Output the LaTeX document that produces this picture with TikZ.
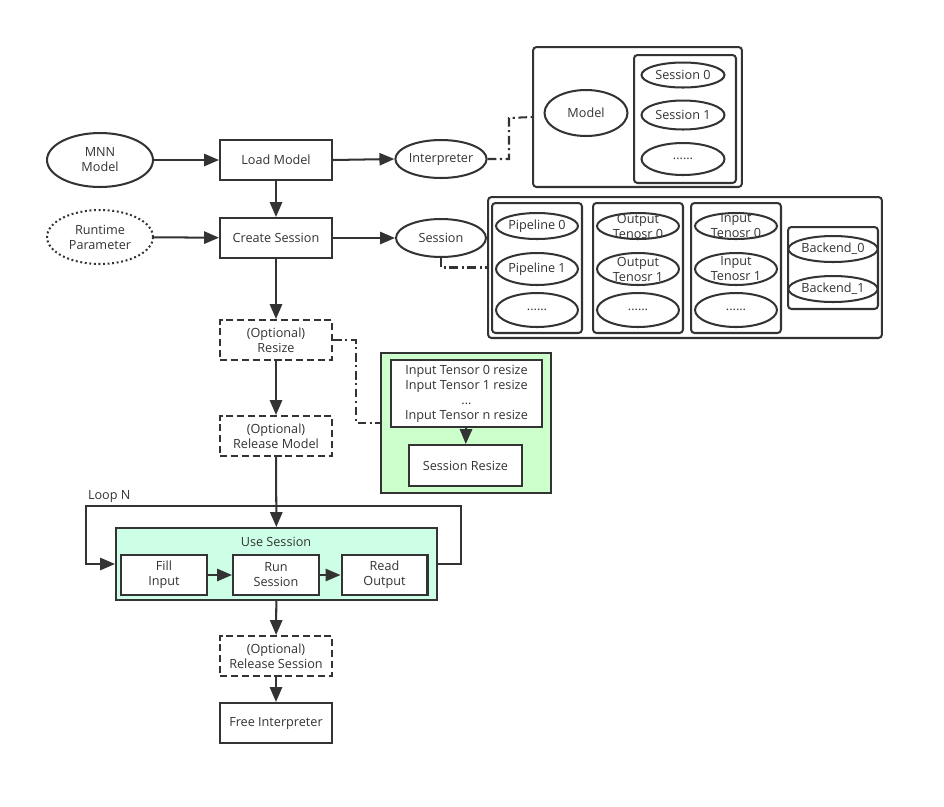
\documentclass[tikz,border=0pt]{standalone}
\usepackage{fontspec}
\setmainfont{Open Sans}
\usepackage{tikz}
\usetikzlibrary{shapes.geometric}
\usetikzlibrary{arrows.meta}
\definecolor{ln}{HTML}{333333}
\definecolor{resizegreen}{HTML}{CCFFCC}
\definecolor{usegreen}{HTML}{CCFFE6}
\tikzset{
  proc/.style={draw, rectangle, fill=white, minimum width=2.24cm, minimum height=0.8cm, inner sep=1pt, align=center},
  opt/.style={proc, dash pattern=on 4pt off 2.2pt},
  oval/.style={draw, ellipse, fill=white, inner sep=0pt, align=center},
  tag/.style={label={[align=center]center:#1}},
  grp/.style={draw, rectangle, rounded corners=2pt, inner sep=0pt},
  arr/.style={-{Triangle[length=8.5pt,width=7pt]}},
  link/.style={dash pattern=on 5pt off 2pt on 1.2pt off 2pt}
}

\begin{document}
\begin{tikzpicture}[x=0.02cm, y=-0.02cm, line width=1.15pt, draw=ln, text=ln,
	font=\fontsize{7.2}{8.5}\selectfont]
	\useasboundingbox (0,0) rectangle (944,806);
	% main flow
	\node[oval, minimum width=2.12cm, minimum height=1.08cm] (mnn) at (100,160) {MNN\\Model};
	\node[oval, dash pattern=on 1.1pt off 1.5pt, minimum width=2.12cm, minimum height=1.08cm] (rt) at (100,237) {Runtime\\Parameter};
	\node[proc] (load) at (276,160) {Load Model};
	\node[proc] (create) at (276,238) {Create Session};
	\node[opt] (resize) at (276,340) {(Optional)\\Resize};
	\node[opt] (relmodel) at (276,436) {(Optional)\\Release Model};
	\node[opt] (relsess) at (276,656) {(Optional)\\Release Session};
	\node[proc] (free) at (276,723) {Free Interpreter};
	\node[oval, minimum width=1.8cm, minimum height=0.76cm] (interp) at (441,159) {Interpreter};
	\node[oval, minimum width=1.8cm, minimum height=0.76cm] (sess) at (441,238) {Session};

	% interpreter content
	\node[grp, minimum width=4.18cm, minimum height=2.8cm] (box1) at (637.5,117) {};
	\node[oval, minimum width=1.66cm, minimum height=0.92cm] (model) at (586,113) {Model};
	\node[grp, minimum width=2.04cm, minimum height=2.56cm] (sesslist) at (685,119) {};
	\node[oval, minimum width=1.66cm, minimum height=0.5cm] (s0) at (683,75) {Session 0};
	\node[oval, minimum width=1.66cm, minimum height=0.58cm] (s1) at (683,115) {Session 1};
	\node[oval, minimum width=1.66cm, minimum height=0.64cm] (sn) at (683,159) {......};

	% session content
	\node[grp, minimum width=7.88cm, minimum height=2.82cm] (box2) at (685,267.5) {};
	\node[grp, minimum width=1.8cm, minimum height=2.6cm] (pipes) at (537,268) {};
	\node[grp, minimum width=1.8cm, minimum height=2.6cm] (outs) at (638,268) {};
	\node[grp, minimum width=1.8cm, minimum height=2.6cm] (ins) at (736,268) {};
	\node[grp, minimum width=1.8cm, minimum height=1.64cm] (backs) at (833,268) {};
	\node[oval, minimum width=1.64cm, minimum height=0.52cm] (p0) at (537,226) {Pipeline 0};
	\node[oval, minimum width=1.64cm, minimum height=0.64cm] (p1) at (537,269) {Pipeline 1};
	\node[oval, minimum width=1.64cm, minimum height=0.68cm] (pn) at (537,310) {......};
	\node[oval, minimum width=1.64cm, minimum height=0.52cm, tag={Output\\Tenosr 0}] (o0) at (638,226) {};
	\node[oval, minimum width=1.64cm, minimum height=0.64cm, tag={Output\\Tenosr 1}] (o1) at (638,269) {};
	\node[oval, minimum width=1.64cm, minimum height=0.68cm] (on) at (638,310) {......};
	\node[oval, minimum width=1.64cm, minimum height=0.52cm, tag={Input\\Tenosr 0}] (i0) at (736,226) {};
	\node[oval, minimum width=1.64cm, minimum height=0.64cm, tag={Input\\Tenosr 1}] (i1) at (736,269) {};
	\node[oval, minimum width=1.64cm, minimum height=0.68cm] (in) at (736,310) {......};
	\node[oval, minimum width=1.68cm, minimum height=0.52cm] (b0) at (833,249) {Backend\_0};
	\node[oval, minimum width=1.68cm, minimum height=0.52cm] (b1) at (833,289) {Backend\_1};

	% resize content
	\node[draw, fill=resizegreen, minimum width=3.4cm, minimum height=2.8cm] (green) at (466,423) {};
	\node[proc, minimum width=3.02cm, minimum height=1.34cm] (tensors) at (466.5,393.5) {Input Tensor 0 resize\\Input Tensor 1 resize\\...\\Input Tensor n resize};
	\node[proc, minimum width=2.26cm, minimum height=0.82cm] (sresize) at (465.5,465.5) {Session Resize};

	% use session
	\node[draw, fill=usegreen, minimum width=6.42cm, minimum height=1.44cm] (use) at (276.5,564) {};
	\node (uselabel) at (276,542) {Use Session};
	\node[proc, minimum width=1.72cm] (fill) at (164,575) {Fill\\Input};
	\node[proc, minimum width=1.72cm] (run) at (276,575) {Run\\Session};
	\node[proc, minimum width=1.72cm] (read) at (384.5,575) {Read\\Output};
	\node[anchor=west, inner sep=0pt] (loopn) at (87,496) {Loop N};
	\coordinate (loopr) at (461,506);
	\coordinate (loopl) at (86,506);
	\coordinate (j1) at (509,118);
	\coordinate (j2) at (356,423);

	\draw[arr] (mnn) -- (load);
	\draw[arr] (rt) -- (create);
	\draw[arr] (load) -- (create);
	\draw[arr] (load.east) -- (interp.west);
	\draw[arr] (create) -- (sess);
	\draw[arr] (create) -- (resize);
	\draw[arr] (resize) -- (relmodel);
	\draw[arr] (relmodel) -- (use);
	\draw[arr] (use) -- (relsess);
	\draw[arr] (relsess) -- (free);
	\draw[arr] (tensors) -- (sresize);
	\draw[arr] (fill) -- (run);
	\draw[arr] (run) -- (read);
	\draw[arr] (use.east) -| (loopr) -- (loopl) |- (use.west);
	% dash-dot links
	\draw[link] (interp.east) -| (j1) -- (box1.west);
	\draw[link] (sess.south) |- (box2.west);
	\draw[link] (resize.east) -| (j2) -- (green.west);
\end{tikzpicture}
\end{document}
